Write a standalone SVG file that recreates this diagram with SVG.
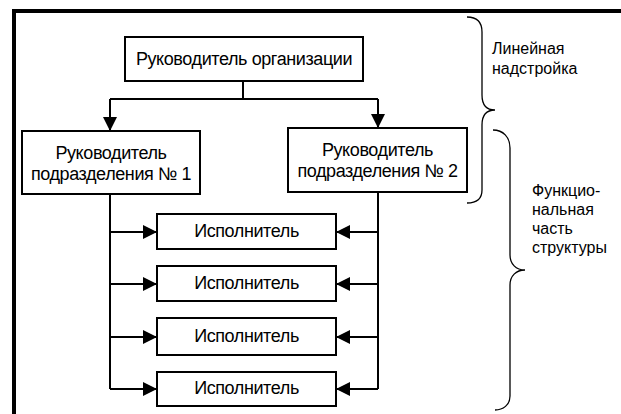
<svg xmlns="http://www.w3.org/2000/svg" width="621" height="414" viewBox="0 0 621 414">
  <defs>
    <marker id="arrow" viewBox="0 0 14 14" refX="14" refY="7" markerWidth="14" markerHeight="14" markerUnits="userSpaceOnUse" orient="auto">
      <path d="M0,0 L14,7 L0,14 z" fill="#000"/>
    </marker>
    <style>
      .box { fill: #fff; stroke: #000; stroke-width: 2; }
      .lbl { font-family: "Liberation Sans", Arial, sans-serif; font-size: 18px; letter-spacing: -0.4px; fill: #000; text-anchor: middle; }
      .side { font-family: "Liberation Sans", Arial, sans-serif; font-size: 16px; fill: #000; }
      .conn { fill: none; stroke: #000; stroke-width: 2; }
      .brace { fill: none; stroke: #000; stroke-width: 1.3; }
    </style>
  </defs>

  <rect width="621" height="414" fill="#fff"/>
  <!-- outer frame: only left and top edges are visible -->
  <path d="M14,420 V11 H630" fill="none" stroke="#000" stroke-width="4"/>

  <g id="connectors">
    <path class="conn" d="M243,81 V99"/>
    <path class="conn" d="M110,99 H378"/>
    <path class="conn" d="M110,99 V131" marker-end="url(#arrow)"/>
    <path class="conn" d="M378,99 V128" marker-end="url(#arrow)"/>
    <path class="conn" d="M110,194 V389"/>
    <path class="conn" d="M378,192 V389"/>
    <path class="conn" d="M110,232 H157" marker-end="url(#arrow)"/>
    <path class="conn" d="M110,284 H157" marker-end="url(#arrow)"/>
    <path class="conn" d="M110,337 H157" marker-end="url(#arrow)"/>
    <path class="conn" d="M110,389 H157" marker-end="url(#arrow)"/>
    <path class="conn" d="M378,232 H336" marker-end="url(#arrow)"/>
    <path class="conn" d="M378,284 H336" marker-end="url(#arrow)"/>
    <path class="conn" d="M378,337 H336" marker-end="url(#arrow)"/>
    <path class="conn" d="M378,389 H336" marker-end="url(#arrow)"/>
  </g>

  <g id="head">
    <rect class="box" x="125" y="37" width="238" height="44"/>
    <text class="lbl" x="244" y="65">Руководитель организации</text>
  </g>

  <g id="dept1">
    <rect class="box" x="22" y="131" width="178" height="63"/>
    <text class="lbl" x="111" y="159">Руководитель</text>
    <text class="lbl" x="111" y="180">подразделения № 1</text>
  </g>

  <g id="dept2">
    <rect class="box" x="288" y="128" width="179" height="64"/>
    <text class="lbl" x="377.5" y="156">Руководитель</text>
    <text class="lbl" x="377.5" y="177">подразделения № 2</text>
  </g>

  <g id="exec1">
    <rect class="box" x="157" y="214" width="179" height="35"/>
    <text class="lbl" x="246.5" y="237">Исполнитель</text>
  </g>
  <g id="exec2">
    <rect class="box" x="157" y="266" width="179" height="35"/>
    <text class="lbl" x="246.5" y="289">Исполнитель</text>
  </g>
  <g id="exec3">
    <rect class="box" x="157" y="318" width="179" height="37"/>
    <text class="lbl" x="246.5" y="342">Исполнитель</text>
  </g>
  <g id="exec4">
    <rect class="box" x="157" y="372" width="179" height="34"/>
    <text class="lbl" x="246.5" y="394">Исполнитель</text>
  </g>

  <g id="linear-brace">
    <path class="brace" d="M467,17 C477,17 482,22 482,32 L482,95 C482,105 487,110 495,110 C487,110 482,115 482,125 L482,190 C482,198 477,203 467,203"/>
    <text class="side" x="492" y="54">Линейная</text>
    <text class="side" x="492" y="74">надстройка</text>
  </g>

  <g id="functional-brace">
    <path class="brace" d="M493,130 C503,130 510,137 510,148 L510,255 C510,264 516,270 525,270 C516,270 510,276 510,285 L510,396 C510,405 503,410 495,410"/>
    <text class="side" x="532" y="196">Функцио-</text>
    <text class="side" x="532" y="215">нальная</text>
    <text class="side" x="532" y="234">часть</text>
    <text class="side" x="532" y="253">структуры</text>
  </g>
</svg>
